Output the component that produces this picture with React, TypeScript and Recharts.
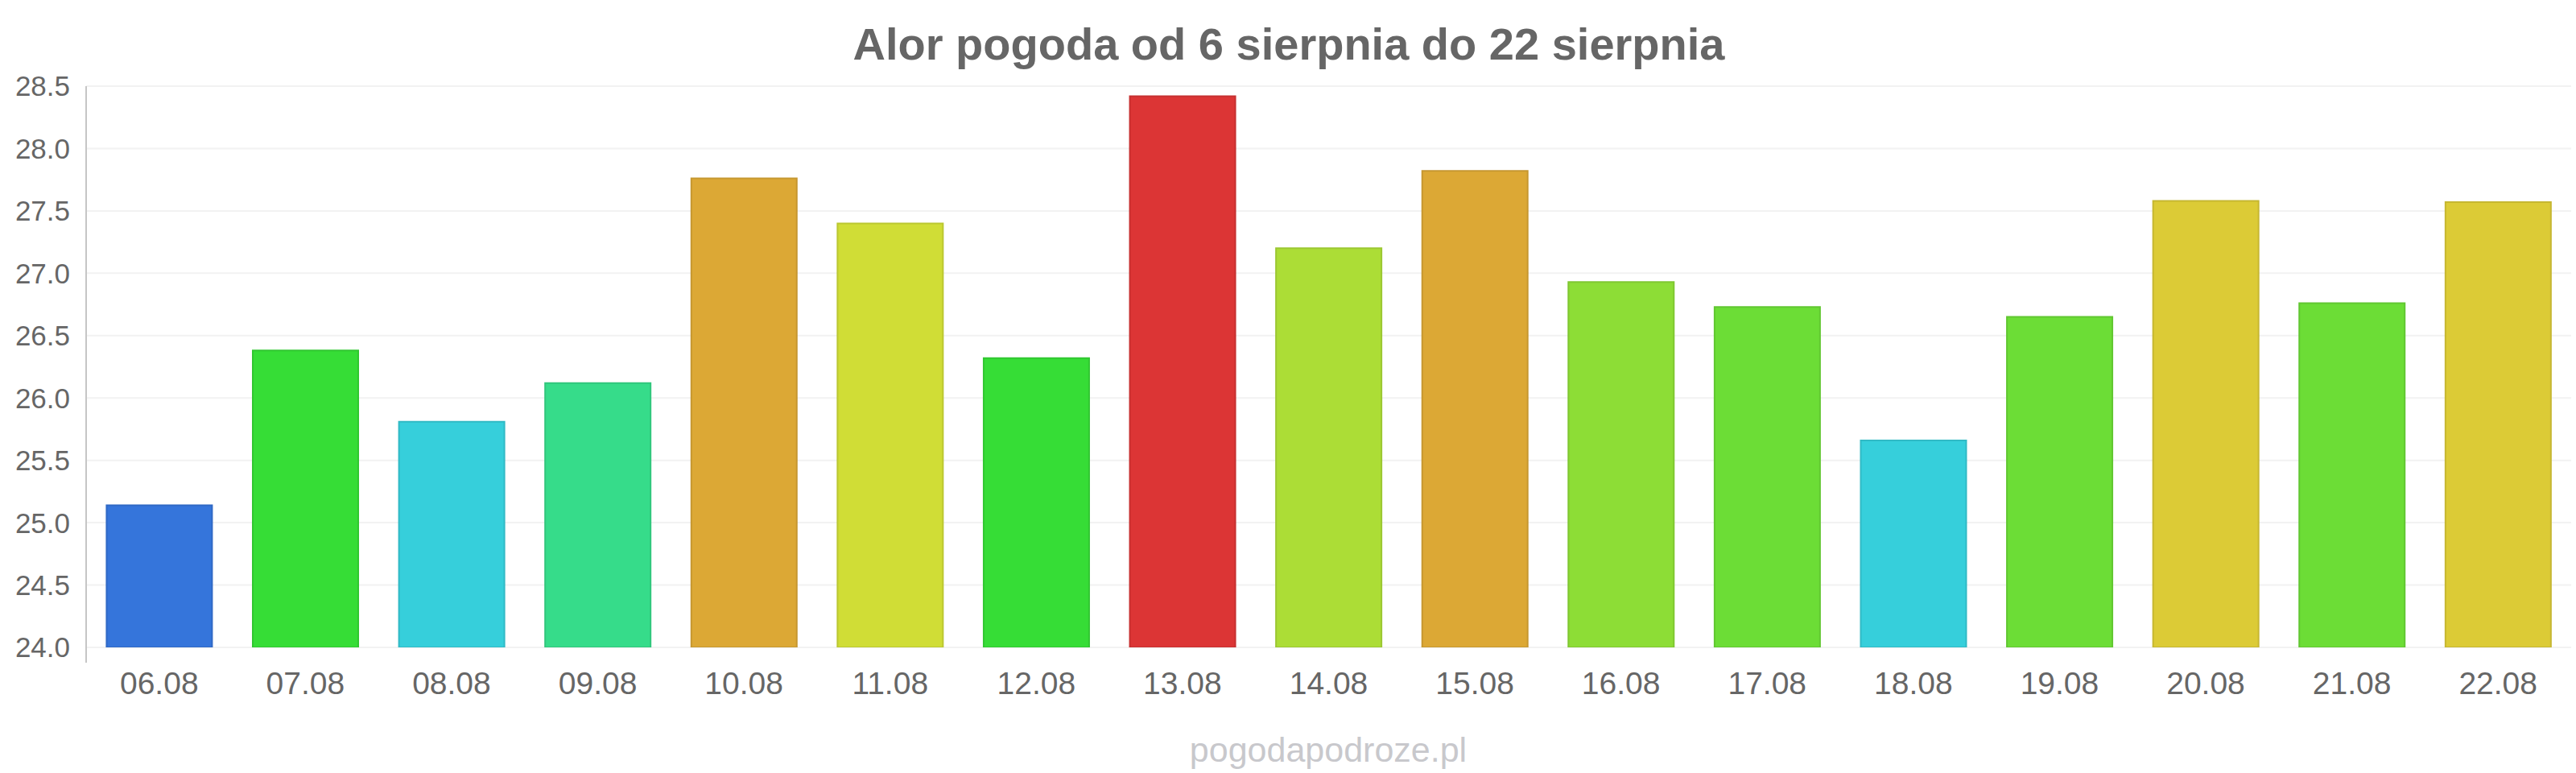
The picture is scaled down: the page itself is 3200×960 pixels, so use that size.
import React from 'react';
import { BarChart, Bar, Cell, XAxis, YAxis, CartesianGrid } from 'recharts';

const days = [
  '06.08', '07.08', '08.08', '09.08', '10.08', '11.08', '12.08', '13.08', '14.08',
  '15.08', '16.08', '17.08', '18.08', '19.08', '20.08', '21.08', '22.08',
];

const temps = [
  25.14, 26.38, 25.81, 26.12, 27.76, 27.4, 26.32, 28.42, 27.2,
  27.82, 26.93, 26.73, 25.66, 26.65, 27.58, 26.76, 27.57,
];

const yTicks = [24, 24.5, 25, 25.5, 26, 26.5, 27, 27.5, 28, 28.5];

const barColors = [
  '#3575db', '#36dd36', '#36cfdb', '#36dc8a', '#dca835', '#d0dd36', '#36dd36', '#dc3535', '#acdd36',
  '#dca835', '#8ddd36', '#6cdd36', '#36cfdb', '#6cdd36', '#dccb36', '#6cdd36', '#dccb36',
];

const FONT = '"Liberation Sans", Arial, sans-serif';

// slightly darker outline, like the original's bar borders
function darken(hex: string, f = 0.9) {
  const n = parseInt(hex.slice(1), 16);
  const r = Math.round(((n >> 16) & 255) * f);
  const g = Math.round(((n >> 8) & 255) * f);
  const b = Math.round((n & 255) * f);
  return `rgb(${r},${g},${b})`;
}

const data = days.map((day, i) => ({ day, temp: temps[i] }));

export default function App() {
  return (
    <div style={{ position: 'absolute', left: 0, top: 0, width: 3200, height: 960, background: '#fff' }}>
      <BarChart
        width={3200}
        height={960}
        data={data}
        margin={{ top: 107, right: 6, left: 0, bottom: 96 }}
        barCategoryGap="14%"
      >
        <CartesianGrid vertical={false} stroke="#f2f2f2" strokeWidth={2} />
        <XAxis
          dataKey="day"
          height={60}
          axisLine={false}
          tickLine={false}
          tickSize={0}
          tickMargin={30}
          interval={0}
          tick={{ fill: '#666666', fontSize: 39, fontFamily: FONT }}
        />
        <YAxis
          width={107}
          domain={[24, 28.5]}
          ticks={yTicks}
          allowDataOverflow
          axisLine={false}
          tickLine={false}
          tickSize={0}
          tickMargin={20}
          tickFormatter={(v: number) => v.toFixed(1)}
          tick={{ fill: '#666666', fontSize: 35, fontFamily: FONT }}
        />
        <Bar dataKey="temp" isAnimationActive={false}>
          {data.map((d, i) => (
            <Cell key={d.day} fill={barColors[i]} stroke={darken(barColors[i])} strokeWidth={2} />
          ))}
        </Bar>
      </BarChart>

      {/* axis line reaching a little below the plot, as in the original */}
      <div style={{ position: 'absolute', left: 106, top: 107, width: 2, height: 716, background: '#c6c6c6' }} />

      <svg width={3200} height={960} style={{ position: 'absolute', left: 0, top: 0, pointerEvents: 'none' }}>
        <text x={1601} y={74} textAnchor="middle" fontFamily={FONT} fontWeight="bold" fontSize={56} fill="#666666">
          Alor pogoda od 6 sierpnia do 22 sierpnia
        </text>
        <text x={1650} y={946} textAnchor="middle" fontFamily={FONT} fontSize={43} fill="#c8c8cc">
          pogodapodroze.pl
        </text>
      </svg>
    </div>
  );
}
